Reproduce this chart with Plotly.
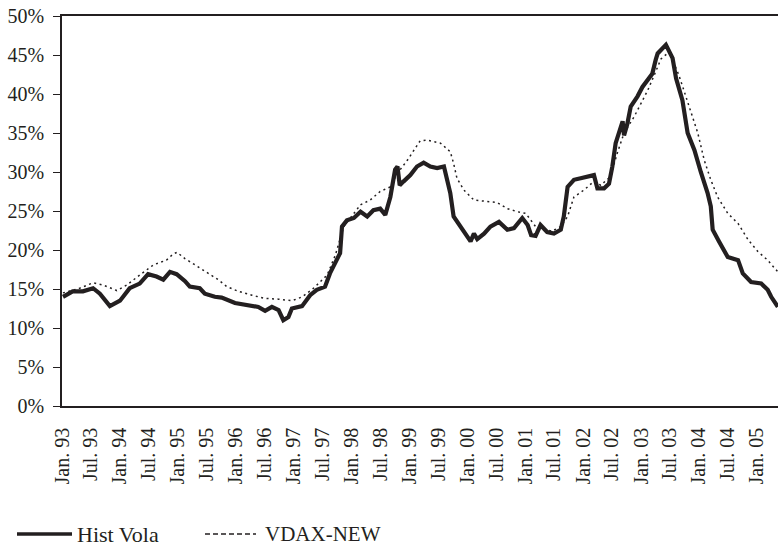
import plotly.graph_objects as go

hist_dates = [
    "1993-01-07", "1993-03-09", "1993-05-13", "1993-07-16", "1993-08-28", "1993-10-30",
    "1994-01-02", "1994-03-04", "1994-05-06", "1994-06-28", "1994-08-20", "1994-10-02",
    "1994-11-13", "1994-12-25", "1995-02-16", "1995-03-18", "1995-05-20", "1995-06-21",
    "1995-08-23", "1995-10-05", "1995-12-28", "1996-03-21", "1996-05-23", "1996-07-05",
    "1996-08-17", "1996-09-28", "1996-10-28", "1996-11-29", "1996-12-21", "1997-02-23",
    "1997-04-15", "1997-05-27", "1997-07-18", "1997-08-18", "1997-10-01", "1997-10-21",
    "1997-11-02", "1997-12-03", "1998-01-16", "1998-02-27", "1998-04-10", "1998-05-19",
    "1998-07-01", "1998-08-02", "1998-09-03", "1998-10-03", "1998-10-18", "1998-11-01",
    "1998-11-26", "1999-01-07", "1999-02-18", "1999-04-01", "1999-05-13", "1999-06-25",
    "1999-08-07", "1999-08-28", "1999-09-16", "1999-10-07", "1999-11-19", "2000-01-01",
    "2000-01-22", "2000-02-12", "2000-03-04", "2000-04-16", "2000-05-26", "2000-07-19",
    "2000-09-10", "2000-10-22", "2000-12-13", "2001-01-16", "2001-02-07", "2001-03-07",
    "2001-04-07", "2001-05-19", "2001-07-01", "2001-08-13", "2001-09-01", "2001-09-25",
    "2001-11-04", "2001-12-16", "2002-01-28", "2002-03-10", "2002-04-01", "2002-05-13",
    "2002-06-13", "2002-07-04", "2002-07-25", "2002-08-16", "2002-09-07", "2002-09-16",
    "2002-10-07", "2002-10-28", "2002-12-10", "2003-01-10", "2003-02-13", "2003-03-13",
    "2003-04-04", "2003-04-16", "2003-06-07", "2003-07-19", "2003-08-10", "2003-09-19",
    "2003-10-22", "2003-12-04", "2004-01-13", "2004-02-25", "2004-03-16", "2004-03-28",
    "2004-05-07", "2004-07-01", "2004-09-04", "2004-10-04", "2004-11-25", "2005-01-28",
    "2005-03-10", "2005-04-01", "2005-05-13",
]
hist_vola = [
    14.0, 14.7, 14.7, 15.1, 14.4, 12.8,
    13.5, 15.1, 15.7, 16.9, 16.6, 16.2,
    17.2, 16.9, 16.0, 15.3, 15.1, 14.4,
    14.0, 13.9, 13.2, 12.9, 12.7, 12.2,
    12.7, 12.3, 11.0, 11.4, 12.5, 12.8,
    14.2, 14.9, 15.3, 17.0, 18.7, 19.6,
    23.0, 23.8, 24.1, 24.9, 24.3, 25.1,
    25.3, 24.5, 26.8, 30.3, 30.7, 28.3,
    28.8, 29.6, 30.7, 31.2, 30.7, 30.5,
    30.7, 29.0, 27.3, 24.3, 23.0, 21.7,
    21.1, 22.1, 21.4, 22.1, 23.0, 23.6,
    22.6, 22.8, 24.1, 23.2, 21.9, 21.8,
    23.2, 22.3, 22.1, 22.6, 24.3, 28.1,
    29.0, 29.2, 29.4, 29.6, 27.9, 27.9,
    28.5, 30.7, 33.7, 35.2, 36.5, 34.7,
    36.2, 38.4, 39.7, 40.9, 41.8, 42.6,
    44.4, 45.2, 46.3, 44.6, 42.0, 39.2,
    35.0, 32.8, 30.0, 27.3, 25.6, 22.6,
    21.1, 19.1, 18.7, 17.0, 15.9, 15.7,
    14.9, 14.0, 12.7,
]

vdax_dates = [
    "1993-01-07", "1993-04-22", "1993-07-16", "1993-09-19", "1993-12-13", "1994-02-13",
    "1994-05-07", "1994-08-01", "1994-10-22", "1994-12-04", "1994-12-28", "1995-02-15",
    "1995-04-19", "1995-06-22", "1995-09-13", "1995-11-07", "1996-01-19", "1996-04-13",
    "1996-07-04", "1996-09-28", "1996-12-22", "1997-02-25", "1997-05-07", "1997-08-01",
    "1997-09-22", "1997-11-13", "1998-02-27", "1998-04-28", "1998-07-01", "1998-09-03",
    "1998-10-16", "1998-12-19", "1999-01-28", "1999-03-10", "1999-04-22", "1999-07-16",
    "1999-09-16", "1999-10-07", "1999-10-28", "1999-12-10", "2000-02-12", "2000-05-07",
    "2000-07-07", "2000-09-10", "2000-11-13", "2001-01-04", "2001-02-07", "2001-03-07",
    "2001-04-07", "2001-06-16", "2001-08-13", "2001-09-25", "2001-11-04", "2002-01-07",
    "2002-03-10", "2002-04-22", "2002-06-22", "2002-08-04", "2002-09-16", "2002-11-19",
    "2003-01-01", "2003-02-13", "2003-03-25", "2003-05-07", "2003-06-28", "2003-08-28",
    "2003-10-01", "2003-11-13", "2003-12-25", "2004-02-04", "2004-03-16", "2004-04-28",
    "2004-07-01", "2004-09-04", "2004-11-07", "2005-01-07", "2005-03-10", "2005-05-13",
]
vdax_new = [
    14.5, 15.1, 15.8, 15.5, 14.8, 15.5,
    16.8, 18.1, 18.7, 19.5, 19.7, 18.9,
    18.1, 17.3, 16.2, 15.3, 14.7, 14.2,
    13.8, 13.7, 13.5, 14.0, 15.1, 16.8,
    19.4, 23.0, 25.8, 26.4, 27.5, 28.1,
    29.8, 31.5, 32.8, 34.0, 34.1, 33.7,
    32.6, 31.1, 29.2, 27.7, 26.4, 26.2,
    26.1, 25.3, 24.9, 24.7, 23.8, 23.0,
    22.9, 22.4, 23.0, 24.3, 26.8, 27.7,
    28.8, 28.3, 29.4, 32.4, 35.0, 37.1,
    38.8, 40.5, 42.4, 44.5, 45.4, 42.4,
    40.3, 37.5, 35.0, 31.5, 29.0, 26.8,
    24.7, 23.4, 21.3, 19.8, 18.7, 17.2,
]

tick_dates = [f"{y}-{m:02d}-01" for y in range(1993, 2006) for m in (1, 7)][:25]
tick_labels = [
    "Jan. 93", "Jul. 93", "Jan. 94", "Jul. 94", "Jan. 95", "Jul. 95", "Jan. 96", "Jul. 96",
    "Jan. 97", "Jul. 97", "Jan. 98", "Jul. 98", "Jan. 99", "Jul. 99", "Jan. 00", "Jul. 00",
    "Jan. 01", "Jul. 01", "Jan. 02", "Jul. 02", "Jan. 03", "Jul. 03", "Jan. 04", "Jul. 04",
    "Jan. 05",
]
y_ticks = [0, 5, 10, 15, 20, 25, 30, 35, 40, 45, 50]
y_labels = [f"{v}%" for v in y_ticks]
legend_names = ["Hist Vola", "VDAX-NEW"]

FONT = "Liberation Serif, Times New Roman, serif"
INK = "#231f20"

# plot area in pixels: x 62..778, y 16..406
L, R, T, B = 62, 778, 16, 406
def px(xp):
    return (xp - L) / (R - L)
def py(yp):
    return (B - yp) / (B - T)

fig = go.Figure()
fig.add_trace(go.Scatter(
    x=hist_dates, y=hist_vola, mode="lines", name=legend_names[0],
    line=dict(color=INK, width=4.2), showlegend=False,
))
fig.add_trace(go.Scatter(
    x=vdax_dates, y=vdax_new, mode="lines", name=legend_names[1],
    line=dict(color=INK, width=1.5, dash="2px,3.5px"), showlegend=False,
))

# legend drawn below the chart
leg_y = py(534)
shapes = [
    dict(type="line", xref="paper", yref="paper", x0=px(17), x1=px(72), y0=leg_y, y1=leg_y,
         line=dict(color=INK, width=3.5)),
    dict(type="line", xref="paper", yref="paper", x0=px(205), x1=px(256), y0=leg_y, y1=leg_y,
         line=dict(color=INK, width=1.3, dash="5px,3px")),
]
annotations = [
    dict(text=legend_names[0], xref="paper", yref="paper", x=px(75), y=leg_y,
         xanchor="left", yanchor="middle", showarrow=False,
         font=dict(family=FONT, size=22, color=INK)),
    dict(text=legend_names[1], xref="paper", yref="paper", x=px(263), y=leg_y,
         xanchor="left", yanchor="middle", showarrow=False,
         font=dict(family=FONT, size=21, color=INK)),
]

fig.update_layout(
    width=778, height=546,
    margin=dict(l=L, r=778 - R, t=T, b=546 - B, autoexpand=False),
    paper_bgcolor="white", plot_bgcolor="white",
    font=dict(family=FONT, size=20, color=INK),
    showlegend=False,
    shapes=shapes, annotations=annotations,
)
fig.update_xaxes(
    type="date", range=["1993-01-01", "2005-05-14"], automargin=False,
    tickvals=tick_dates, ticktext=tick_labels, tickangle=-90,
    showgrid=False, zeroline=False, ticks="", ticklabelstandoff=12,
    showline=True, linecolor=INK, linewidth=1.5, mirror=True,
    tickfont=dict(family=FONT, size=20, color=INK),
)
fig.update_yaxes(
    range=[0, 50], automargin=False, tickvals=y_ticks, ticktext=y_labels,
    showgrid=False, zeroline=False, ticks="outside", ticklen=7, tickcolor=INK, tickwidth=1.3,
    ticklabelstandoff=5,
    showline=True, linecolor=INK, linewidth=1.5,
    tickfont=dict(family=FONT, size=20, color=INK),
)

fig.write_html(
    "out.html",
    config={"displayModeBar": False},
    post_script="document.body.style.margin='0';document.body.style.overflow='hidden';",
)
